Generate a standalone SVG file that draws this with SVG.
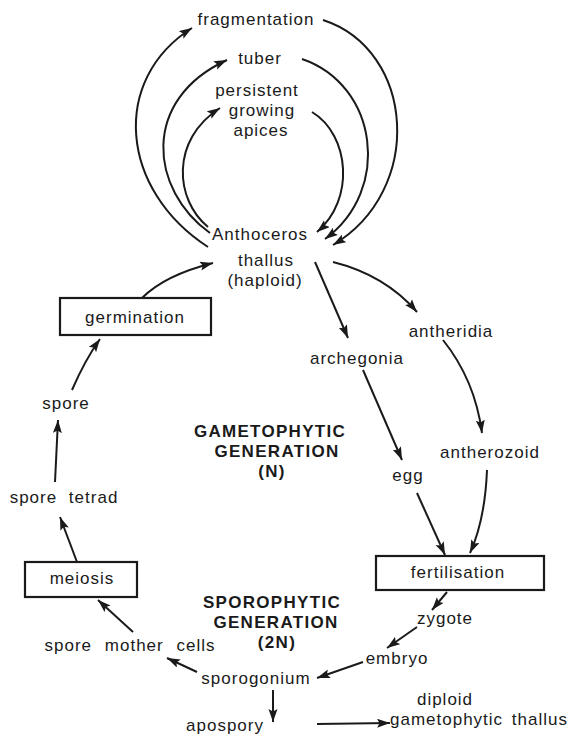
<svg xmlns="http://www.w3.org/2000/svg" width="573" height="742" viewBox="0 0 573 742">
<style>
text{font-family:"Liberation Sans",Arial,sans-serif;font-size:17px;fill:#1a1a1a;text-anchor:middle;letter-spacing:1px}
.h{font-weight:bold;font-size:17px;letter-spacing:1.3px}
.box{fill:#fff;stroke:#1a1a1a;stroke-width:2.2}
.c path{fill:none;stroke:#1a1a1a;stroke-width:2;marker-end:url(#a)}
</style>
<defs>
<marker id="a" markerUnits="userSpaceOnUse" markerWidth="14" markerHeight="10" refX="13" refY="4.5" orient="auto">
<path d="M0,0 L13,4.5 L0,9 L2.5,4.5 z" fill="#1a1a1a"/>
</marker>
</defs>
<rect width="573" height="742" fill="#fff"/>
<g id="connectors" class="c">
<path d="M208,247 C120,190 110,80 192,28"/>
<path d="M210,233 C150,190 140,100 227,60"/>
<path d="M208,227 C175,200 170,140 220,108"/>
<path d="M323,20 C415,50 425,190 333,245"/>
<path d="M302,59 C378,85 392,190 325,239"/>
<path d="M312,112 C350,135 355,200 317,232"/>
<path d="M142,298 Q165,275 213,263"/>
<path d="M72,390 Q85,360 100,339"/>
<path d="M55,482 L58,420"/>
<path d="M77,562 L60,517"/>
<path d="M133,632 L98,600"/>
<path d="M197,672 L167,658"/>
<path d="M273,690 L273,722"/>
<path d="M317,724 L390,723"/>
<path d="M363,662 Q340,670 317,678"/>
<path d="M417,627 L387,648"/>
<path d="M447,592 L432,610"/>
<path d="M417,493 L445,555"/>
<path d="M487,470 Q485,520 470,553"/>
<path d="M363,370 L402,460"/>
<path d="M443,340 Q475,380 482,433"/>
<path d="M315,262 L348,338"/>
<path d="M333,262 Q385,275 417,312"/>
</g>
<g id="fragmentation"><text x="256" y="25">fragmentation</text></g>
<g id="tuber"><text x="260" y="64">tuber</text></g>
<g id="apices"><text x="257" y="96">persistent</text><text x="262" y="116">growing</text><text x="261" y="136">apices</text></g>
<g id="thallus"><text x="260" y="240">Anthoceros</text><text x="266" y="266">thallus</text><text x="265" y="286">(haploid)</text></g>
<g id="germination"><rect class="box" x="60" y="298" width="151" height="37"/><text x="135" y="323">germination</text></g>
<g id="spore"><text x="66" y="409">spore</text></g>
<g id="tetrad"><text x="64" y="503" style="word-spacing:6px">spore tetrad</text></g>
<g id="meiosis"><rect class="box" x="25" y="562" width="112" height="35"/><text x="82" y="584">meiosis</text></g>
<g id="smc"><text x="130" y="651" style="word-spacing:7px">spore mother cells</text></g>
<g id="sporogonium"><text x="256" y="684">sporogonium</text></g>
<g id="apospory"><text x="225" y="731">apospory</text></g>
<g id="diploid"><text x="445" y="705">diploid</text><text x="479" y="725" style="word-spacing:3px">gametophytic thallus</text></g>
<g id="embryo"><text x="397" y="664">embryo</text></g>
<g id="zygote"><text x="445" y="624">zygote</text></g>
<g id="fertilisation"><rect class="box" x="376" y="556" width="168" height="34"/><text x="458" y="578">fertilisation</text></g>
<g id="egg"><text x="408" y="481">egg</text></g>
<g id="antherozoid"><text x="490" y="458">antherozoid</text></g>
<g id="archegonia"><text x="357" y="364">archegonia</text></g>
<g id="antheridia"><text x="451" y="337">antheridia</text></g>
<g id="gametophytic"><text class="h" x="270" y="437">GAMETOPHYTIC</text><text class="h" x="277" y="457">GENERATION</text><text class="h" x="272" y="477">(N)</text></g>
<g id="sporophytic"><text class="h" x="272" y="608">SPOROPHYTIC</text><text class="h" x="276" y="628">GENERATION</text><text class="h" x="277" y="648">(2N)</text></g>
</svg>
